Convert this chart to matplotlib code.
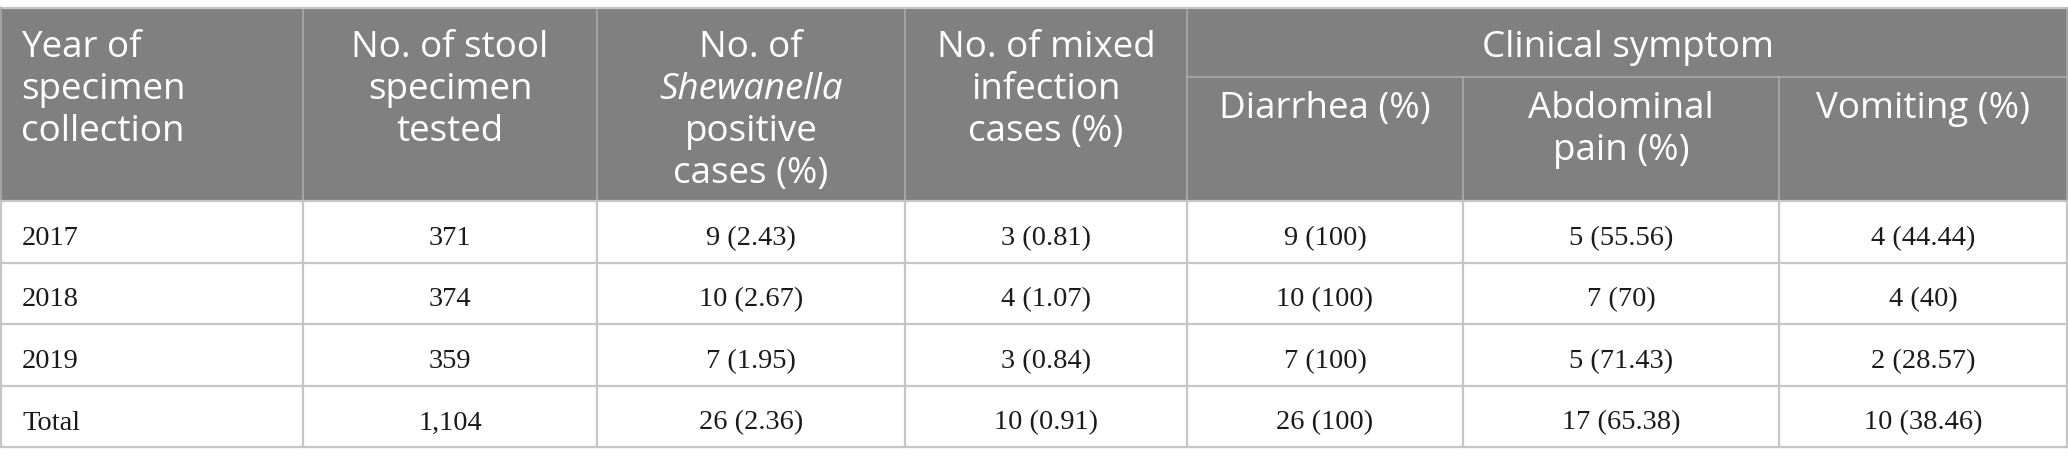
import matplotlib.pyplot as plt
from matplotlib.patches import Rectangle

# table data
years = ['2017', '2018', '2019', 'Total']
tested = ['371', '374', '359', '1,104']
positive = ['9 (2.43)', '10 (2.67)', '7 (1.95)', '26 (2.36)']
mixed = ['3 (0.81)', '4 (1.07)', '3 (0.84)', '10 (0.91)']
diarrhea = ['9 (100)', '10 (100)', '7 (100)', '26 (100)']
abdominal = ['5 (55.56)', '7 (70)', '5 (71.43)', '17 (65.38)']
vomiting = ['4 (44.44)', '4 (40)', '2 (28.57)', '10 (38.46)']

W, H = 2068, 466
col_x = [0, 303, 597, 905, 1187, 1463, 1779, 2068]
top, sub_top, head_bot = 8, 77, 201
row_h = 61.5

head_bg = '#7f807f'
head_line = '#a9aaa9'
body_line = '#c6c6c6'
hfont = 'Open Sans'
bfont = 'Liberation Serif'
hsize = 26.5
bsize = 20.5

fig = plt.figure(figsize=(W / 100, H / 100), dpi=100)
ax = fig.add_axes([0, 0, 1, 1])
ax.set_xlim(0, W)
ax.set_ylim(H, 0)
ax.axis('off')

# header background
ax.add_patch(Rectangle((0, top), W, head_bot - top, color=head_bg, lw=0))

# header grid lines
for x in col_x[1:-1]:
    y0 = sub_top if x in col_x[5:7] else top
    ax.plot([x, x], [y0, head_bot], color=head_line, lw=1.2)
ax.plot([col_x[4], W], [sub_top, sub_top], color=head_line, lw=1.2)
ax.plot([0, W], [top, top], color=body_line, lw=1.6)
ax.plot([0.8, 0.8], [top, head_bot], color=head_line, lw=1.2)
ax.plot([W - 0.8, W - 0.8], [top, head_bot], color=head_line, lw=1.2)

# header texts
base0 = 57
lh = 42
head_cols = [
    ['Year of', 'specimen', 'collection'],
    ['No. of stool', 'specimen', 'tested'],
    ['No. of', 'Shewanella', 'positive', 'cases (%)'],
    ['No. of mixed', 'infection', 'cases (%)'],
]
for i, lines in enumerate(head_cols):
    for j, line in enumerate(lines):
        if i == 0:
            x, ha = col_x[0] + 21, 'left'
        else:
            x, ha = (col_x[i] + col_x[i + 1]) / 2, 'center'
        style = 'italic' if line == 'Shewanella' else 'normal'
        ax.text(x, base0 + j * lh, line, ha=ha, va='baseline', color='white',
                fontsize=hsize, family=hfont, style=style)

ax.text((col_x[4] + W) / 2, base0, 'Clinical symptom', ha='center', va='baseline',
        color='white', fontsize=hsize, family=hfont)

sub_cols = [['Diarrhea (%)'], ['Abdominal', 'pain (%)'], ['Vomiting (%)']]
for k, lines in enumerate(sub_cols):
    i = 4 + k
    for j, line in enumerate(lines):
        ax.text((col_x[i] + col_x[i + 1]) / 2, 118 + j * lh, line, ha='center',
                va='baseline', color='white', fontsize=hsize, family=hfont)

# body
columns = [years, tested, positive, mixed, diarrhea, abdominal, vomiting]
n = len(years)
bottom = head_bot + n * row_h
for r in range(n + 1):
    y = head_bot + r * row_h
    ax.plot([0, W], [y, y], color=body_line, lw=1.6)
for x in col_x:
    xx = min(max(x, 0.8), W - 0.8)
    ax.plot([xx, xx], [head_bot, bottom], color=body_line, lw=1.6)

for i, col in enumerate(columns):
    for r, val in enumerate(col):
        yb = head_bot + r * row_h + 44
        if i == 0:
            x, ha = col_x[0] + 22, 'left'
        else:
            x, ha = (col_x[i] + col_x[i + 1]) / 2, 'center'
        ax.text(x, yb, val, ha=ha, va='baseline', color='#1a1a1a',
                fontsize=bsize, family=bfont)

fig.savefig('out.png', dpi=100, facecolor='white')
